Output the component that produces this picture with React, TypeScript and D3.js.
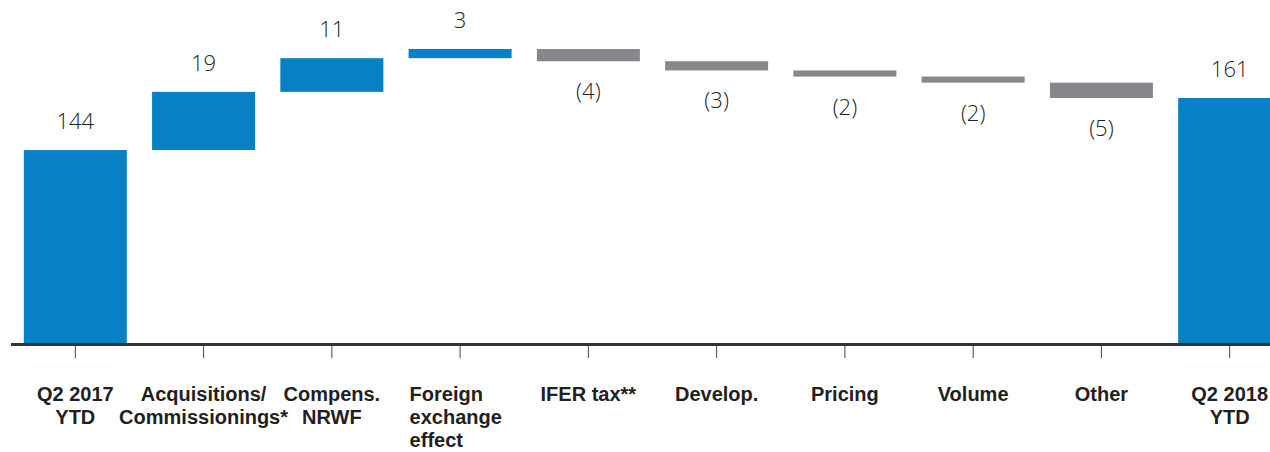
import { useEffect, useRef } from 'react';
import * as d3 from 'd3';

// waterfall data
const categories = [
  'q2_2017', 'acq', 'compens', 'fx', 'ifer', 'develop', 'pricing', 'volume', 'other', 'q2_2018',
];
const categoryLabels = [
  [ 'Q2 2017', 'YTD' ],
  [ 'Acquisitions/', 'Commissionings*' ],
  [ 'Compens.', 'NRWF' ],
  [ 'Foreign', 'exchange', 'effect' ],
  [ 'IFER tax**' ],
  [ 'Develop.' ],
  [ 'Pricing' ],
  [ 'Volume' ],
  [ 'Other' ],
  [ 'Q2 2018', 'YTD' ],
];
const values = [ 144, 19, 11, 3, -4, -3, -2, -2, -5, 161 ];
const isTotal = [ true, false, false, false, false, false, false, false, false, true ];
const valueLabels = [ '144', '19', '11', '3', '(4)', '(3)', '(2)', '(2)', '(5)', '161' ];

const BLUE = '#0780c6';
const GREY = '#87878b';

export default function App() {
  const svgRef = useRef<SVGSVGElement>( null );

  useEffect( () => {
    if ( !svgRef.current ) return;
    const width = 1270;
    const height = 452;
    const axisY = 343;

    const svg = d3.select( svgRef.current );
    svg.selectAll( '*' ).remove();
    svg.attr( 'width', width ).attr( 'height', height );

    const x = d3.scaleBand<string>()
      .domain( categories )
      .range( [ 11, 11 + 128.3 * 10 ] )
      .paddingInner( 0.197 )
      .paddingOuter( 0.1 );

    const y = d3.scaleLinear()
      .domain( [ 81, 177 ] )
      .range( [ axisY, 49 ] );

    // running totals for floating bars
    let run = 0;
    const bars = values.map( ( v, i ) => {
      let lo: number, hi: number;
      if ( isTotal[ i ] ) {
        lo = y.domain()[ 0 ];
        hi = v;
        run = v;
      } else {
        const start = run;
        run = run + v;
        lo = Math.min( start, run );
        hi = Math.max( start, run );
      }
      return { key: categories[ i ], v, lo, hi, label: valueLabels[ i ], total: isTotal[ i ] };
    } );

    const g = svg.append( 'g' );

    g.selectAll( 'rect' )
      .data( bars )
      .join( 'rect' )
      .attr( 'x', d => x( d.key )! )
      .attr( 'width', x.bandwidth() )
      .attr( 'y', d => y( d.hi ) )
      .attr( 'height', d => y( d.lo ) - y( d.hi ) )
      .attr( 'fill', d => ( d.total || d.v > 0 ) ? BLUE : GREY );

    // value labels
    g.selectAll( 'text.val' )
      .data( bars )
      .join( 'text' )
      .attr( 'class', 'val' )
      .attr( 'x', d => x( d.key )! + x.bandwidth() / 2 )
      .attr( 'y', d => d.v >= 0 ? y( d.hi ) - 21 : y( d.lo ) + 38 )
      .attr( 'text-anchor', 'middle' )
      .attr( 'fill', '#222' )
      .style( 'font', '300 22px "Open Sans", sans-serif' )
      .text( d => d.label );

    // axis line
    g.append( 'line' )
      .attr( 'x1', 11 ).attr( 'x2', width )
      .attr( 'y1', axisY + 1.5 ).attr( 'y2', axisY + 1.5 )
      .attr( 'stroke', '#333' )
      .attr( 'stroke-width', 3 );

    // ticks
    g.selectAll( 'line.tick' )
      .data( categories )
      .join( 'line' )
      .attr( 'class', 'tick' )
      .attr( 'x1', d => x( d )! + x.bandwidth() / 2 )
      .attr( 'x2', d => x( d )! + x.bandwidth() / 2 )
      .attr( 'y1', axisY + 3 )
      .attr( 'y2', axisY + 15 )
      .attr( 'stroke', '#444' )
      .attr( 'stroke-width', 1 );

    // category labels
    const labels = g.selectAll( 'text.cat' )
      .data( categories )
      .join( 'text' )
      .attr( 'class', 'cat' )
      .attr( 'fill', '#231f20' )
      .style( 'font', 'bold 20px "Liberation Sans", Arial, sans-serif' );

    labels.each( function ( d, i ) {
      const t = d3.select( this );
      const cx = x( d )! + x.bandwidth() / 2;
      // the FX label is a left-aligned block
      const leftBlock = d === 'fx';
      t.attr( 'text-anchor', leftBlock ? 'start' : 'middle' );
      categoryLabels[ i ].forEach( ( line, j ) => {
        t.append( 'tspan' )
          .attr( 'x', leftBlock ? x( d )! + 1 : cx )
          .attr( 'y', 401 + j * 22.8 )
          .text( line );
      } );
    } );
  }, [] );

  return (
    <div style={ { position: 'absolute', left: 0, top: 0, width: 1270, height: 452, background: '#fff' } }>
      <svg ref={ svgRef } style={ { display: 'block' } } />
    </div>
  );
}
